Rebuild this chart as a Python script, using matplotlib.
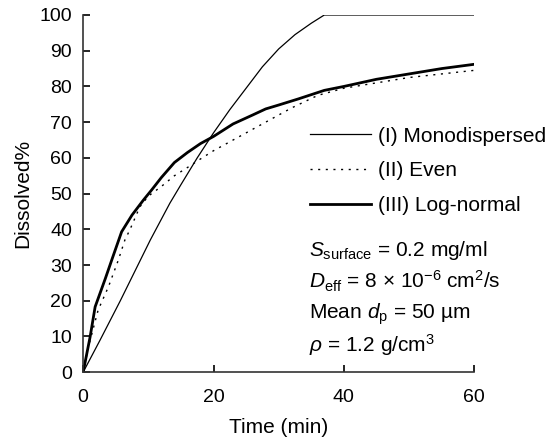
import matplotlib.pyplot as plt

plt.rcParams['font.family'] = ['Liberation Sans', 'DejaVu Sans']
plt.rcParams['mathtext.fontset'] = 'custom'
plt.rcParams['mathtext.rm'] = 'Liberation Sans'
plt.rcParams['mathtext.it'] = 'Liberation Sans:italic'

# Values
mono_t = [0, 2.6, 5.7, 8, 10.3, 13.3, 15, 17.5, 20, 22.5, 25, 27.5, 30, 32.5, 35, 37, 60]
mono_y = [0, 9, 20, 28.5, 37, 47.3, 52.5, 60, 67, 73.5, 79.5, 85.5, 90.5, 94.5, 97.7, 100, 100]

even_t = [0, 0.8, 2.3, 3.9, 5.4, 6.4, 7.2, 8.7, 10, 12, 14, 16, 18, 20, 24, 28, 32, 36, 40, 45, 50, 55, 60]
even_y = [0, 7, 17.4, 24, 31.4, 37, 40, 46.3, 49.3, 52, 55, 57.3, 59.7, 62, 66, 70, 74, 77.5, 79.5, 81, 82.5, 83.5, 84.5]

logn_t = [0, 1.07, 1.84, 3.4, 4.5, 5.9, 7.5, 9.25, 10.5, 12, 14, 16, 18, 20, 23, 26, 28, 30, 33, 37, 40, 45, 50, 55, 60]
logn_y = [0, 9.9, 18.3, 26.2, 32, 39.3, 44, 48.2, 51, 54.5, 58.7, 61.5, 64, 66, 69.5, 72, 73.7, 74.8, 76.5, 78.9, 80, 82, 83.5, 85, 86.2]

fig = plt.figure(figsize=(5.47, 4.41), dpi=100)
ax = fig.add_axes([0.152, 0.156, 0.715, 0.810])

ax.plot(mono_t, mono_y, color='black', lw=0.9, label='(I) Monodispersed')
ax.plot(even_t, even_y, color='black', lw=1.0, ls=(0, (1.5, 4)), label='(II) Even')
ax.plot(logn_t, logn_y, color='black', lw=2.0, label='(III) Log-normal')

ax.set_xlim(0, 60)
ax.set_ylim(0, 100)
ax.set_xticks([0, 20, 40, 60])
ax.set_yticks(range(0, 101, 10))
for s in ['top', 'right']:
    ax.spines[s].set_visible(False)
for s in ['left', 'bottom']:
    ax.spines[s].set_linewidth(1.2)
    ax.spines[s].set_color('#333333')
ax.tick_params(axis='x', direction='in', length=5, width=1.2, labelsize=14, pad=12)
ax.tick_params(axis='y', direction='in', length=5, width=1.2, labelsize=14, pad=8)

ax.set_xlabel('Time (min)', fontsize=15, labelpad=9)
ax.set_ylabel('Dissolved%', fontsize=15, labelpad=5)

leg = fig.legend(loc='upper left', bbox_to_anchor=(0.552, 0.732), frameon=False,
                 fontsize=15, handlelength=2.9, handletextpad=0.33, labelspacing=0.76,
                 borderaxespad=0)

notes = [r'$S_{\rm surface}$ = 0.2 mg/ml',
         r'$D_{\rm eff}$ = 8 × 10$^{-6}$ cm$^2$/s',
         r'Mean $d_{\rm p}$ = 50 µm',
         r'$\rho$ = 1.2 g/cm$^3$']
note_y = [0.433, 0.362, 0.287, 0.217]
for txt, y in zip(notes, note_y):
    fig.text(0.565, y, txt, fontsize=15, va='center')

plt.savefig('out.png', dpi=100)
